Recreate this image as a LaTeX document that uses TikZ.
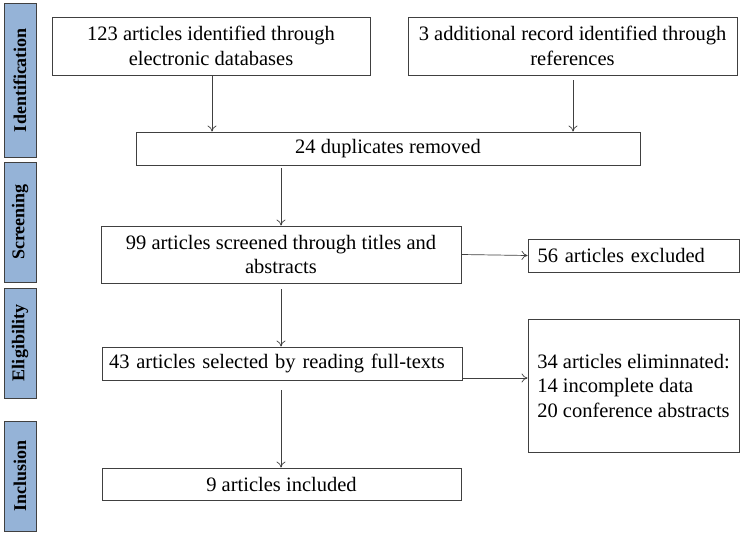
\documentclass[tikz,border=0pt]{standalone}
\usepackage{fontspec}
\setmainfont{Liberation Serif}
\usetikzlibrary{arrows.meta}
\definecolor{barblue}{HTML}{95B3D7}
\definecolor{linegray}{HTML}{404040}
\tikzset{
  box/.style={draw=linegray, line width=0.9pt, inner sep=0pt, align=center, font=\fontsize{20.5}{24.5}\selectfont},
  bar/.style={draw=linegray, fill=barblue, line width=0.9pt, inner sep=0pt, minimum width=32pt},
  barlabel/.style={rotate=90, font=\fontsize{18}{20}\selectfont\bfseries},
  conn/.style={draw=linegray, line width=0.7pt, -{To[length=6pt,width=9pt]}}
}
\begin{document}
\begin{tikzpicture}[x=1pt,y=-1pt]
\useasboundingbox (0,0) rectangle (744,535);
% side bars
\node[bar, minimum height=154pt] (bid) at (20,80) {};
\node[barlabel] at (bid) {Identification};
\node[bar, minimum height=120pt] (bsc) at (20,222) {};
\node[barlabel] at (bsc) {Screening};
\node[bar, minimum height=110pt] (bel) at (20,343) {};
\node[barlabel] at (bel) {Eligibility};
\node[bar, minimum height=110pt] (bin) at (20,476) {};
\node[barlabel] at (bin) {Inclusion};
% boxes
\node[box, minimum width=318pt, minimum height=58pt] (db) at (211,46) {123 articles identified through\\electronic databases};
\node[box, minimum width=329pt, minimum height=58pt] (ref) at (572.5,46) {3 additional record identified through\\references};
\node[box, minimum width=504pt, minimum height=33pt] (dup) at (388,148.5) {24 duplicates removed};
\node[box, minimum width=360pt, minimum height=57pt] (scr) at (281,254.5) {99 articles screened through titles and\\abstracts};
\node[box, minimum width=211pt, minimum height=33pt, inner xsep=9.5pt, text width=192pt, align=left] (exc) at (633.5,255.5) {56 articles excluded};
\node[box, minimum width=360pt, minimum height=33pt, inner xsep=7pt, text width=346pt, align=left] (sel) at (282,363.5) {43 articles selected by reading full-texts};
\node[box, minimum width=211pt, minimum height=133pt, align=left] (elim) at (633.5,385.5) {34 articles eliminnated:\\14 incomplete data\\20 conference abstracts};
\node[box, minimum width=359pt, minimum height=32pt] (inc) at (281.5,484) {9 articles included};
% connectors
\draw[conn] (212,0 |- db.south) -- (212,0 |- dup.north);
\draw[conn] ([yshift=-5pt]573,0 |- ref.south) -- (573,0 |- dup.north);
\draw[conn] ([yshift=-3pt]281,0 |- dup.south) -- (281,0 |- scr.north);
\draw[conn] (scr.east) -- (exc.west);
\draw[conn] ([yshift=-6pt]281,0 |- scr.south) -- (281,0 |- sel.north);
\draw[conn] (sel.east |- 0,378) -- (elim.west |- 0,378);
\draw[conn] ([yshift=-10pt]281,0 |- sel.south) -- (281,0 |- inc.north);
\end{tikzpicture}
\end{document}
